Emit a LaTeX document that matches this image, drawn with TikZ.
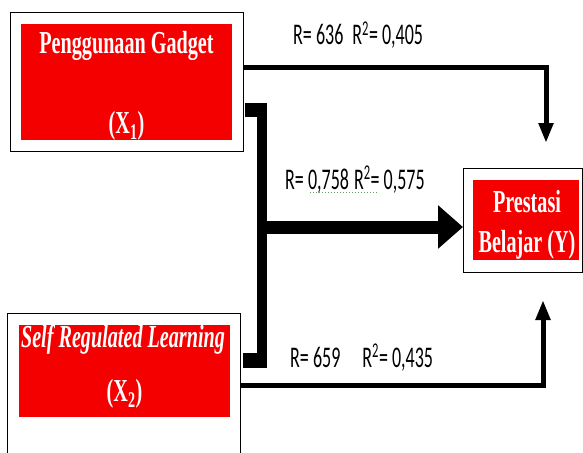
\documentclass[tikz,border=0pt]{standalone}
\usepackage{fontspec}
\usetikzlibrary{arrows.meta}
\newfontfamily\boxfont[FakeStretch=0.63]{Liberation Serif}
\newfontfamily\lblfont[FakeStretch=0.6]{Carlito}
\definecolor{boxred}{RGB}{245,0,0}
\definecolor{spellgreen}{RGB}{100,160,100}
\begin{document}
\begin{tikzpicture}[x=1pt,y=-1pt,
  outerbox/.style={draw=black, line width=1pt, fill=white, inner sep=0pt, anchor=north west},
  redbox/.style={fill=boxred, draw=none, inner sep=0pt, anchor=north west},
  boxtext/.style={text=white, font=\boxfont\bfseries\fontsize{32}{34}\selectfont, inner sep=0pt, anchor=base},
  boxtexti/.style={boxtext, font=\boxfont\bfseries\itshape\fontsize{32}{34}\selectfont},
  lbl/.style={font=\lblfont\fontsize{30}{32}\selectfont, inner sep=0pt, anchor=base west},
  thinarrow/.style={line width=5pt, line join=miter, -{Triangle[width=14pt,length=20pt]}},
  bigarrow/.style={line width=13pt, -{Triangle[width=42pt,length=25pt]}},
  stubblock/.style={fill=black, draw=none, inner sep=0pt, anchor=north west},
]
\useasboundingbox (0,0) rectangle (583,452);
\clip (0,0) rectangle (583,452);

% boxes
\node[outerbox, minimum width=233pt, minimum height=139pt] (box1) at (10,12) {};
\node[redbox, minimum width=211pt, minimum height=116pt] (red1) at (21,24) {};
\node[boxtext] (t1a) at (126.5,53) {Penggunaan Gadget};
\node[boxtext] (t1b) at (126.5,133) {(X\textsubscript{1})};

\node[outerbox, minimum width=233pt, minimum height=160pt] (box2) at (7,313) {};
\node[redbox, minimum width=211pt, minimum height=92pt] (red2) at (19,325) {};
\node[boxtexti] (t2a) at (123,347) {Self Regulated Learning};
\node[boxtext] (t2b) at (124.5,401) {(X\textsubscript{2})};

\node[outerbox, minimum width=119pt, minimum height=104pt] (boxY) at (463,168) {};
\node[redbox, minimum width=106pt, minimum height=80pt] (redY) at (473,180) {};
\node[boxtext] (tYa) at (527,212) {Prestasi};
\node[boxtext] (tYb) at (527,252) {Belajar (Y)};

% labels
\node[lbl] (l1) at (293,45) {R= 636\hspace{9pt}R\textsuperscript{2}= 0,405};
\node[lbl] (l2) at (285,189) {R= 0,758\hspace{5pt}R\textsuperscript{2}= 0,575};
\node[lbl] (l3) at (290,367) {R= 659\hspace{22pt}R\textsuperscript{2}= 0,435};
\draw[spellgreen, dotted, line width=1pt] (310,192) -- (378,192);

% connectors
\coordinate (toptip) at (546,143);
\coordinate (bottip) at (543,300);
\draw[thinarrow] ([yshift=-55pt]box1.north east) -| (toptip);
\draw[thinarrow] ([yshift=-72pt]box2.north east) -| (bottip);

\node[stubblock, minimum width=22pt, minimum height=14pt] (stub1) at (245,103) {};
\node[stubblock, minimum width=24pt, minimum height=15pt] (stub2) at (243,353) {};
\draw[line width=10pt] ([xshift=-5pt]stub1.north east) -- ([xshift=-5pt]stub2.south east);
\coordinate (junction) at (262,227);
\draw[bigarrow] (junction) -- (boxY.west |- junction);
\end{tikzpicture}
\end{document}
